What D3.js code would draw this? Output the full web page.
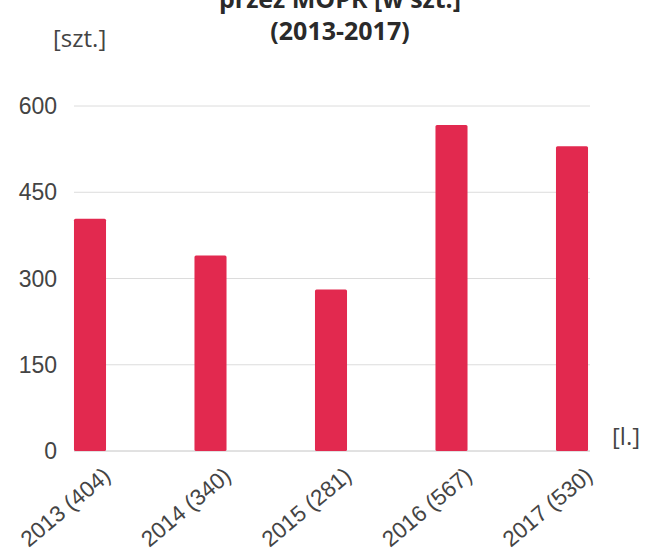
<!DOCTYPE html>
<html><head><meta charset="utf-8">
<script src="https://cdn.jsdelivr.net/npm/d3@7"></script>
<style>body{margin:0;background:#fff}svg{display:block}</style>
</head><body><svg id="c" width="646" height="556"></svg>
<script>
const years = ["2013","2014","2015","2016","2017"];
const values = [404, 340, 281, 567, 530];
const yTicks = [0, 150, 300, 450, 600];
const titleLines = ["przez MOPR [w szt.]", "(2013-2017)"];
const yUnit = "[szt.]";
const xUnit = "[l.]";

const svg = d3.select("#c");
const x = d3.scaleBand().domain(years).range([29.75, 632.25]).paddingInner(0.734).paddingOuter(0.367);
const y = d3.scaleLinear().domain([0, 600]).range([451, 106]);
const font = "'Liberation Sans', Arial, sans-serif";

// gridlines
svg.append("g").selectAll("line").data(yTicks).join("line")
  .attr("x1", 74).attr("x2", 590)
  .attr("y1", d => y(d)).attr("y2", d => y(d))
  .attr("stroke", d => d === 0 ? "#c4c4c4" : "#dcdcdc").attr("stroke-width", 1);

// y tick labels
svg.append("g").selectAll("text").data(yTicks).join("text")
  .attr("x", 57).attr("y", d => y(d)).attr("dy", "0.35em")
  .attr("text-anchor", "end").attr("font-family", font).attr("font-size", 23)
  .attr("fill", "#444").text(d => d);

// bars
svg.append("g").selectAll("rect").data(values).join("rect")
  .attr("x", (d, i) => x(years[i])).attr("width", x.bandwidth())
  .attr("y", d => y(d)).attr("height", d => y(0) - y(d))
  .attr("fill", "#e2294f").attr("rx", 1.5);

// x labels
svg.append("g").selectAll("text").data(years).join("text")
  .attr("transform", (d, i) => `translate(${x(d) + x.bandwidth() / 2 + 17},${y(0) + 21}) rotate(-40)`)
  .attr("text-anchor", "end").attr("dy", "0.35em")
  .attr("font-family", font).attr("font-size", 22.5).attr("fill", "#444")
  .text((d, i) => `${d} (${values[i]})`);

// title
svg.append("g").selectAll("text").data(titleLines).join("text")
  .attr("x", 340).attr("y", (d, i) => 8 + i * 32)
  .attr("text-anchor", "middle").attr("font-family", "'Open Sans', sans-serif")
  .attr("font-weight", "bold").attr("font-size", 25).attr("fill", "#2a2a2a")
  .text(d => d);

svg.append("text").attr("x", 53).attr("y", 47)
  .attr("font-family", "'Open Sans', sans-serif").attr("font-size", 24).attr("fill", "#444")
  .text(yUnit);
svg.append("text").attr("x", 612).attr("y", 445)
  .attr("font-family", "'Open Sans', sans-serif").attr("font-size", 24).attr("fill", "#444")
  .text(xUnit);
</script></body></html>
